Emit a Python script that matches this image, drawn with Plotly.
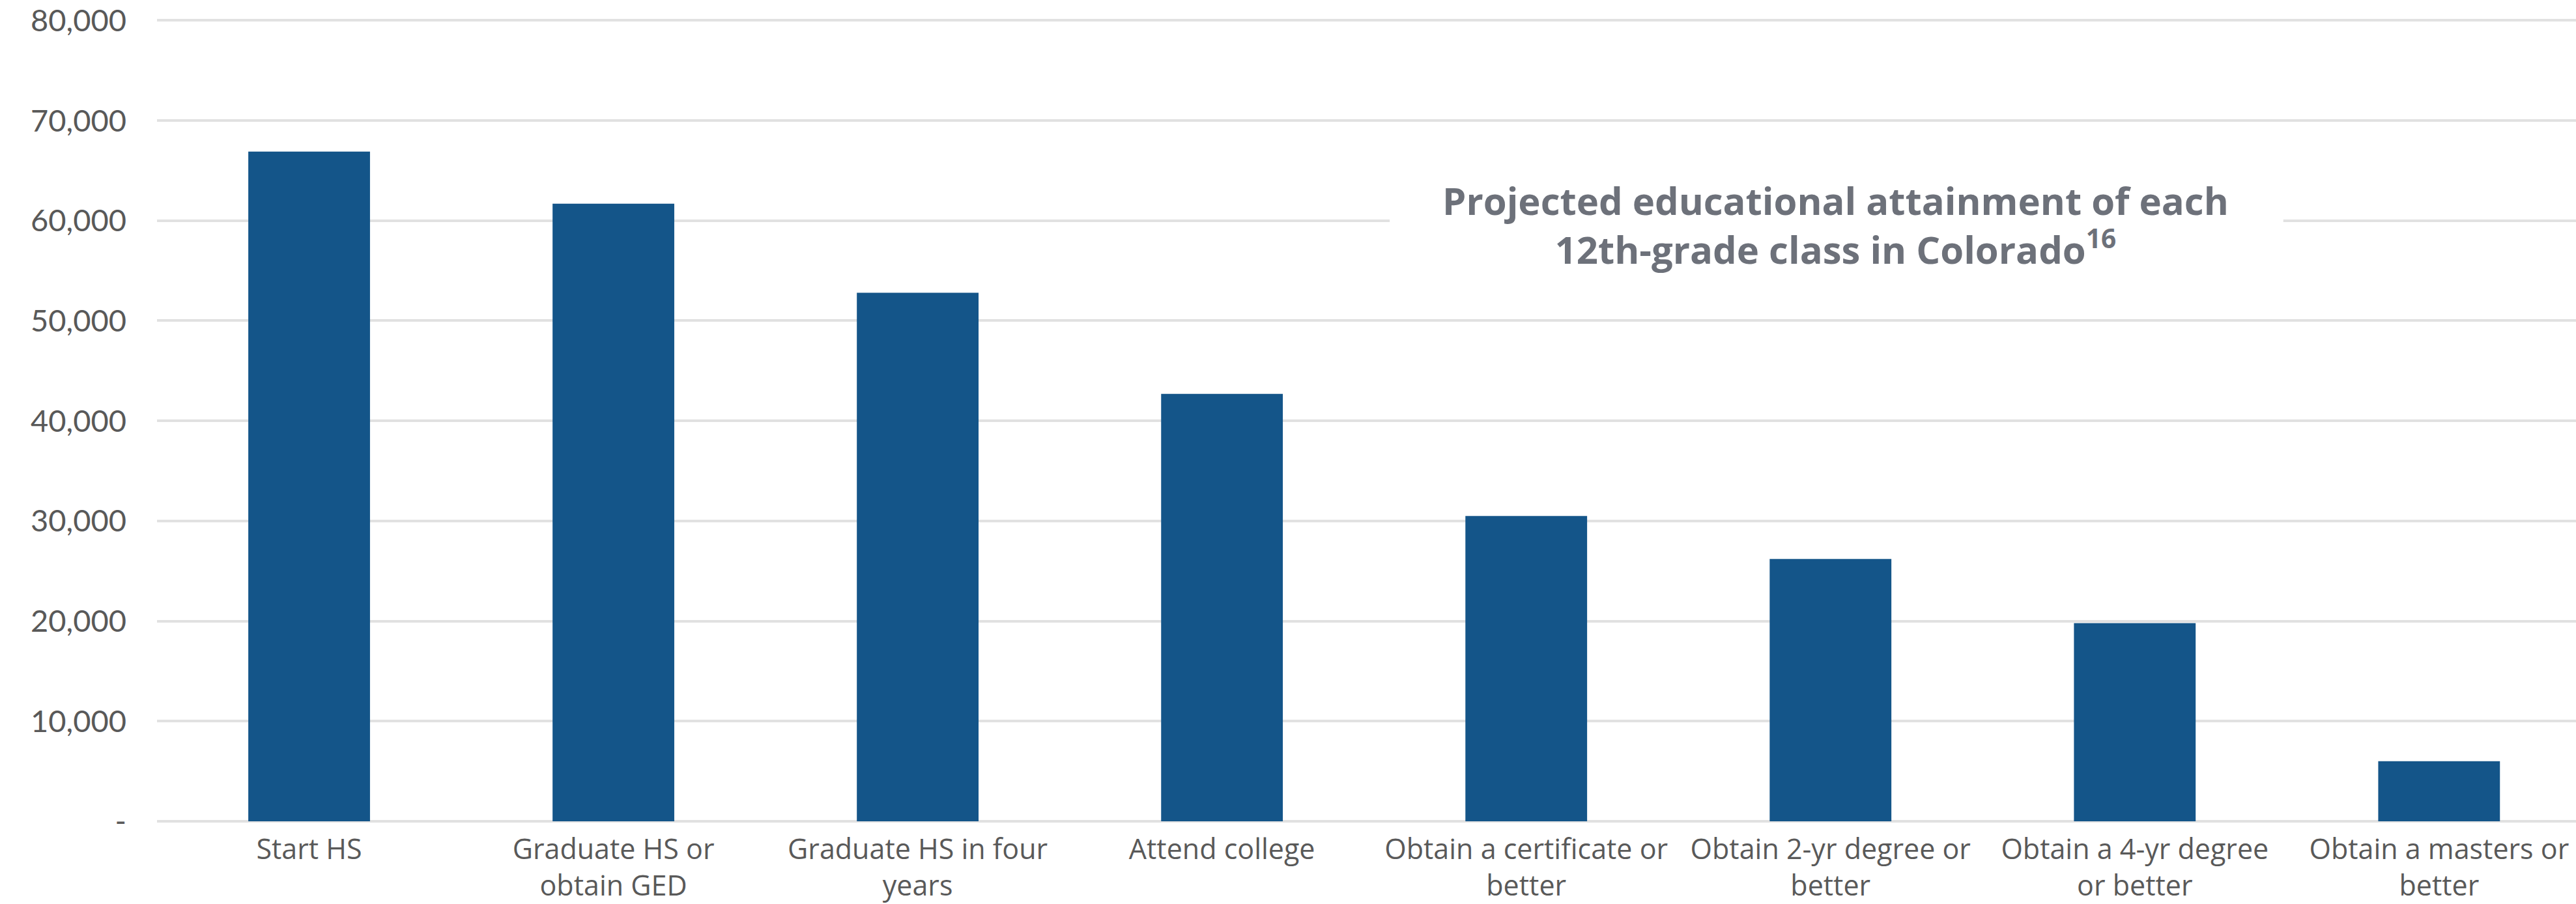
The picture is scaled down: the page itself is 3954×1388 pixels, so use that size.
import plotly.graph_objects as go

# Educational pipeline for one 12th-grade cohort in Colorado
categories = [
    "Start HS",
    "Graduate HS or<br>obtain GED",
    "Graduate HS in four<br>years",
    "Attend college",
    "Obtain a certificate or<br>better",
    "Obtain 2-yr degree or<br>better",
    "Obtain a 4-yr degree<br>or better",
    "Obtain a masters or<br>better",
]
students = [66900, 61700, 52800, 42700, 30500, 26200, 19800, 6000]

y_tick_values = [0, 10000, 20000, 30000, 40000, 50000, 60000, 70000, 80000]
y_tick_labels = ["-", "10,000", "20,000", "30,000", "40,000", "50,000",
                 "60,000", "70,000", "80,000"]

title_lines = ["Projected educational attainment of each",
               "12th-grade class in Colorado<sup>16</sup>"]

BAR_BLUE = "#145589"
GRID = "#e1e1e1"
LABEL_GREY = "#595959"
TITLE_GREY = "#6d717a"
SANS = "Open Sans, Noto Sans, sans-serif"

fig = go.Figure()
fig.add_trace(go.Bar(
    x=list(range(len(categories))),
    y=students,
    width=0.4,
    marker=dict(color=BAR_BLUE, line=dict(width=0)),
    hoverinfo="skip",
))

fig.update_layout(
    width=3954,
    height=1388,
    margin=dict(l=240.5, r=0, t=15.7, b=120.5, pad=0),
    paper_bgcolor="white",
    plot_bgcolor="white",
    showlegend=False,
    bargap=0.6,
    xaxis=dict(
        range=[-0.5, 7.45],
        tickmode="array",
        tickvals=list(range(len(categories))),
        ticktext=categories,
        showgrid=False,
        zeroline=False,
        showline=False,
        ticks="",
        tickfont=dict(family=SANS, size=43, color=LABEL_GREY),
        ticklabelstandoff=14,
        fixedrange=True,
    ),
    yaxis=dict(
        range=[0, 81000],
        tickmode="array",
        tickvals=y_tick_values,
        ticktext=y_tick_labels,
        showgrid=True,
        gridcolor=GRID,
        gridwidth=4,
        zeroline=True,
        zerolinecolor=GRID,
        zerolinewidth=4,
        showline=False,
        ticks="",
        tickfont=dict(family="Lato, Open Sans, sans-serif", size=47, color=LABEL_GREY),
        ticklabelstandoff=46,
        fixedrange=True,
    ),
)

# White panel behind the title, masking the gridline it sits on
fig.add_shape(
    type="rect",
    xref="paper", yref="y",
    x0=0.5096, x1=0.8790,
    y0=52500, y1=66000,
    fillcolor="white",
    line=dict(width=0),
    layer="above",
)

fig.add_annotation(
    xref="paper", yref="y",
    x=0.6938, y=59600,
    xanchor="center", yanchor="middle",
    text="<b>" + "<br>".join(title_lines) + "</b>",
    showarrow=False,
    align="center",
    font=dict(family=SANS, size=58, color=TITLE_GREY),
)

fig.write_html("out.html")
